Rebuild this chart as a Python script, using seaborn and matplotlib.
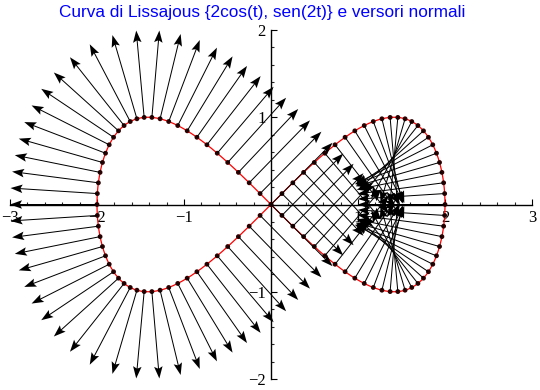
import numpy as np
import pandas as pd
import matplotlib
matplotlib.use("Agg")
import matplotlib.pyplot as plt
from matplotlib.ticker import MultipleLocator
import seaborn as sns

# Curve definition {2cos(t), sen(2t)} and sampling used in the reference
amp_x, freq_x = 2.0, 1.0
amp_y, freq_y = 1.0, 2.0
n_samples = 100
x_ticks = [-3, -2, -1, 1, 2, 3]
y_ticks = [-2, -1, 1, 2]
title = "Curva di Lissajous {2cos(t), sen(2t)} e versori normali"

t = np.arange(n_samples) * 2 * np.pi / n_samples
t_fine = np.linspace(0, 2 * np.pi, 600)

pts = pd.DataFrame({"x": amp_x * np.cos(freq_x * t), "y": amp_y * np.sin(freq_y * t)})
curve = pd.DataFrame({"x": amp_x * np.cos(freq_x * t_fine), "y": amp_y * np.sin(freq_y * t_fine)})

# tangent and unit normal (tangent rotated +90 degrees)
dx = -amp_x * freq_x * np.sin(freq_x * t)
dy = amp_y * freq_y * np.cos(freq_y * t)
norm = np.hypot(dx, dy)
pts["u"] = -dy / norm
pts["v"] = dx / norm

sns.set_style("white")
plt.rcParams["font.family"] = ["Liberation Serif", "DejaVu Serif"]

fig = plt.figure(figsize=(5.4, 3.9), dpi=100)
ax = fig.add_axes([10 / 540, 11 / 390, 522 / 540, 349 / 390])

sns.lineplot(data=curve, x="x", y="y", sort=False, estimator=None, color="#ff0000",
             linewidth=0.9, ax=ax, zorder=2)
sns.scatterplot(data=pts, x="x", y="y", color="#2a0000", s=12, edgecolor="none", ax=ax, zorder=3)
ax.quiver(pts["x"], pts["y"], pts["u"], pts["v"], angles="xy", scale_units="xy", scale=1,
          units="dots", width=1.0, headwidth=8.5, headlength=12, headaxislength=10,
          color="black", zorder=4, clip_on=False)

ax.set_xlim(-3, 3)
ax.set_ylim(-2, 2)
ax.set_xlabel("")
ax.set_ylabel("")
for s in ["top", "right"]:
    ax.spines[s].set_visible(False)
for s in ["left", "bottom"]:
    ax.spines[s].set_position(("data", 0))
    ax.spines[s].set_color("black")
    ax.spines[s].set_linewidth(1.0)
    ax.spines[s].set_zorder(1)
ax.set_xticks(x_ticks)
ax.set_yticks(y_ticks)
ax.set_xticklabels([f"{v:d}".replace("-", "\u2212") for v in x_ticks])
ax.set_yticklabels([f"{v:d}".replace("-", "\u2212") for v in y_ticks])
ax.xaxis.set_minor_locator(MultipleLocator(0.2))
ax.yaxis.set_minor_locator(MultipleLocator(0.2))
ax.tick_params(which="major", direction="in", length=4, width=0.8, labelsize=12, pad=4,
               bottom=True, left=True, colors="black")
ax.tick_params(which="minor", direction="in", length=2.2, width=0.8, bottom=True, left=True)
ax.tick_params(axis="x", which="major", pad=4)
ax.set_facecolor("white")
ax.patch.set_alpha(0)

fig.text(262 / 540, 1 - 13 / 390, title, color="#0000ff", fontsize=12.4,
         family=["Liberation Sans", "DejaVu Sans"], ha="center", va="center")

fig.savefig("out.png", dpi=100, facecolor="white")
plt.close(fig)
